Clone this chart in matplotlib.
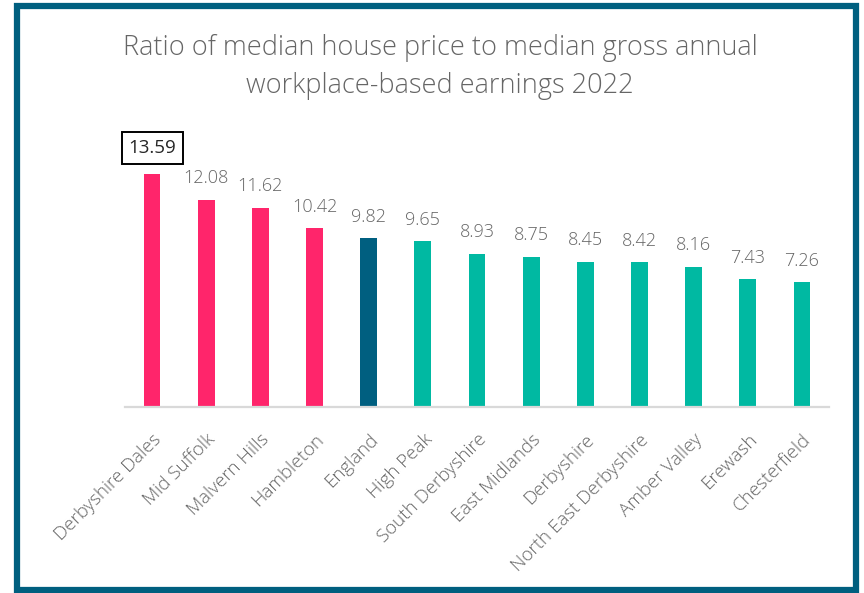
import matplotlib
matplotlib.use('Agg')
import matplotlib.pyplot as plt
import numpy as np
from matplotlib.patches import Rectangle

areas = ['Derbyshire Dales', 'Mid Suffolk', 'Malvern Hills', 'Hambleton', 'England',
         'High Peak', 'South Derbyshire', 'East Midlands', 'Derbyshire',
         'North East Derbyshire', 'Amber Valley', 'Erewash', 'Chesterfield']
ratios = [13.59, 12.08, 11.62, 10.42, 9.82, 9.65, 8.93, 8.75, 8.45, 8.42, 8.16, 7.43, 7.26]
groups = ['comp', 'comp', 'comp', 'comp', 'eng', 'derb', 'derb', 'derb', 'derb',
          'derb', 'derb', 'derb', 'derb']
title = 'Ratio of median house price to median gross annual\nworkplace-based earnings 2022'

palette = {'comp': '#FF256B', 'eng': '#005F80', 'derb': '#00B9A2'}
grey = '#666666'

plt.rcParams['font.family'] = ['Open Sans', 'DejaVu Sans']

fig = plt.figure(figsize=(8.64, 5.93), dpi=100)
ax = fig.add_axes([125 / 864, 1 - 407 / 593, 704 / 864, 257.5 / 593])

x = np.arange(len(areas))
bars = ax.bar(x, ratios, width=0.31, color=[palette[g] for g in groups], zorder=2)

for i, rect in enumerate(bars):
    h = rect.get_height()
    if i == 0:
        ax.annotate(f'{h:.2f}', xy=(rect.get_x() + rect.get_width() / 2, h),
                    xytext=(0, 12), textcoords='offset points', ha='center', va='bottom',
                    fontsize=13.5, color='#262626',
                    bbox=dict(boxstyle='square,pad=0.35', fc='white', ec='black', lw=1.4))
    else:
        ax.annotate(f'{h:.2f}', xy=(rect.get_x() + rect.get_width() / 2, h),
                    xytext=(0, 9), textcoords='offset points', ha='center', va='bottom',
                    fontsize=13, color=grey, fontweight='light')

ax.set_xlim(-0.5, len(areas) - 0.5)
ax.set_ylim(0, 15)
ax.set_yticks([])
ax.set_xticks(x)
ax.set_xticklabels(areas, rotation=45, ha='right', rotation_mode='anchor',
                   fontsize=13.5, color=grey, fontweight='light')
ax.tick_params(axis='x', length=0, pad=17)
for s in ['top', 'right', 'left']:
    ax.spines[s].set_visible(False)
ax.spines['bottom'].set_color('#D9D9D9')
ax.spines['bottom'].set_linewidth(1.6)

fig.text(440 / 864, 1 - 67 / 593, title, ha='center', va='center', fontsize=19.5,
         color=grey, fontweight='light', linespacing=1.45)

# outer frame
fig.patches.append(Rectangle((17 / 864, 3 / 593), 839 / 864, 584 / 593,
                             transform=fig.transFigure, fill=False,
                             ec='#005F7F', lw=4.5))

fig.savefig('out.png', dpi=100, facecolor='white')
